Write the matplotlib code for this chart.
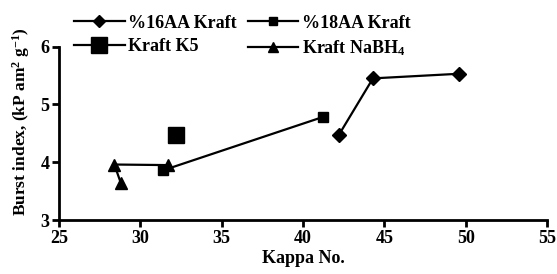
import matplotlib.pyplot as plt
from matplotlib.lines import Line2D

# data
aa16_x = [42.2, 44.3, 49.6]
aa16_y = [4.47, 5.45, 5.53]
aa18_x = [31.4, 41.2]
aa18_y = [3.86, 4.78]
k5_x = [32.2]
k5_y = [4.47]
nabh4_x = [28.8, 28.4, 31.7]
nabh4_y = [3.64, 3.96, 3.95]

xticks = [25, 30, 35, 40, 45, 50, 55]
yticks = [3, 4, 5, 6]

plt.rcParams['font.family'] = ['Liberation Serif', 'DejaVu Serif']
plt.rcParams['font.weight'] = 'bold'
plt.rcParams['mathtext.fontset'] = 'custom'
plt.rcParams['mathtext.rm'] = 'Liberation Serif:bold'
plt.rcParams['mathtext.it'] = 'Liberation Serif:bold'

fig = plt.figure(figsize=(5.57, 2.74), dpi=100)
ax = fig.add_axes([0.106, 0.197, 0.876, 0.633])

lw = 1.6
ax.plot(aa16_x, aa16_y, color='black', lw=lw, marker='D', ms=7, clip_on=False)
ax.plot(aa18_x, aa18_y, color='black', lw=lw, marker='s', ms=7, clip_on=False)
ax.plot(k5_x, k5_y, color='black', lw=0, marker='s', ms=11, clip_on=False)
ax.plot(nabh4_x, nabh4_y, color='black', lw=lw, marker='^', ms=8, clip_on=False)

ax.set_xlim(25, 55)
ax.set_ylim(3, 6)
ax.set_xticks(xticks)
ax.set_yticks(yticks)
for s in ['top', 'right']:
    ax.spines[s].set_visible(False)
for s in ['left', 'bottom']:
    ax.spines[s].set_linewidth(2)
ax.tick_params(width=2, length=5, labelsize=13, pad=2)

ax.set_xlabel('Kappa No.', fontsize=13, fontweight='bold', labelpad=2)
ax.set_ylabel('Burst index, (kP am$^2$ g$^{-1}$)', fontsize=12.5,
              fontweight='bold')
ax.yaxis.set_label_coords(-0.055, 0.565)

handles = [
    Line2D([], [], color='black', lw=lw, marker='D', ms=6),
    Line2D([], [], color='black', lw=lw, marker='s', ms=11),
    Line2D([], [], color='black', lw=lw, marker='s', ms=6),
    Line2D([], [], color='black', lw=lw, marker='^', ms=7),
]
labels = ['%16AA Kraft', 'Kraft K5', '%18AA Kraft', 'Kraft NaBH$_4$']
ax.legend(handles, labels, ncol=2, loc='lower left', bbox_to_anchor=(0.016, 0.895),
          frameon=False, fontsize=13, handlelength=2.8, handletextpad=0.2,
          columnspacing=0.6, labelspacing=0.35, borderaxespad=0)

fig.savefig('out.png', dpi=100)
